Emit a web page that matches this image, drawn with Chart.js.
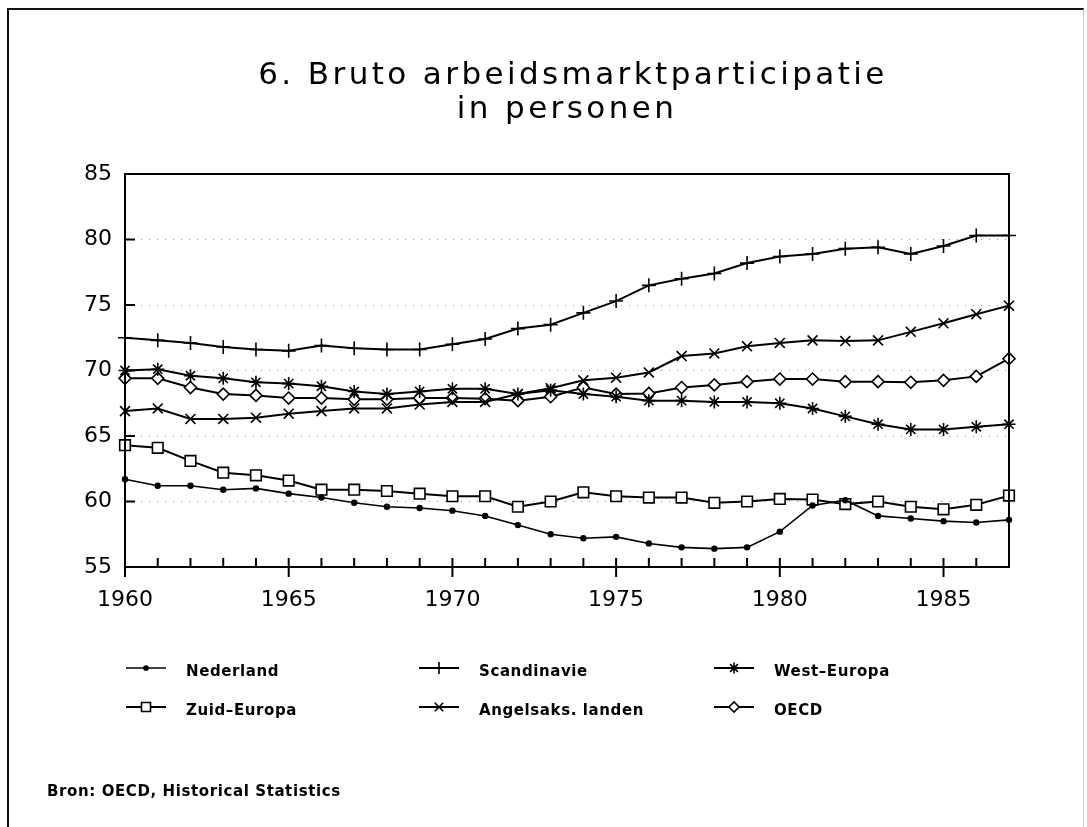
<!DOCTYPE html>
<html>
<head>
<meta charset="utf-8">
<title>Bruto arbeidsmarktparticipatie</title>
<script src="https://cdn.jsdelivr.net/npm/chart.js@4.4.1/dist/chart.umd.min.js"></script>
<style>
  body { margin: 0; background: #fff; }
  #wrap { position: relative; width: 1087px; height: 827px; overflow: hidden; }
  #box { position: absolute; left: 0; top: 0; width: 1087px; height: 827px; }
  #frame { position: absolute; left: 7px; top: 8px; width: 1074px; height: 840px;
           border-left: 2px solid #111; border-top: 2px solid #111; border-right: 1px solid #ccc;
           pointer-events: none; }
</style>
</head>
<body>
<div id="wrap">
  <div id="box"><canvas id="participatieChart"></canvas></div>
  <div id="frame"></div>
</div>
<script>

// years on the x axis, only every 5th gets a label
const years = ['1960','1961','1962','1963','1964','1965','1966','1967','1968','1969',
               '1970','1971','1972','1973','1974','1975','1976','1977','1978','1979',
               '1980','1981','1982','1983','1984','1985','1986','1987'];
const yearLabels = ['1960','1965','1970','1975','1980','1985'];
const yTicks = [55, 60, 65, 70, 75, 80, 85];

const titleLines = ['6. Bruto arbeidsmarktparticipatie', 'in personen'];
const sourceText = 'Bron: OECD, Historical Statistics';

// participatie in %
const nederland   = [61.7, 61.2, 61.2, 60.9, 61.0, 60.6, 60.3, 59.9, 59.6, 59.5,
                     59.3, 58.9, 58.2, 57.5, 57.2, 57.3, 56.8, 56.5, 56.4, 56.5,
                     57.7, 59.7, 60.1, 58.9, 58.7, 58.5, 58.4, 58.6];
const scandinavie = [72.5, 72.3, 72.1, 71.8, 71.6, 71.5, 71.9, 71.7, 71.6, 71.6,
                     72.0, 72.4, 73.2, 73.5, 74.4, 75.3, 76.5, 77.0, 77.4, 78.2,
                     78.7, 78.9, 79.3, 79.4, 78.9, 79.5, 80.3, 80.3];
const westEuropa  = [70.0, 70.1, 69.6, 69.4, 69.1, 69.0, 68.8, 68.4, 68.2, 68.4,
                     68.6, 68.6, 68.2, 68.5, 68.2, 68.0, 67.7, 67.7, 67.6, 67.6,
                     67.5, 67.1, 66.5, 65.9, 65.5, 65.5, 65.7, 65.9];
const zuidEuropa  = [64.3, 64.1, 63.1, 62.2, 62.0, 61.6, 60.9, 60.9, 60.8, 60.6,
                     60.4, 60.4, 59.6, 60.0, 60.7, 60.4, 60.3, 60.3, 59.9, 60.0,
                     60.2, 60.15, 59.8, 60.0, 59.6, 59.4, 59.75, 60.45];
const angelsaks   = [66.9, 67.1, 66.3, 66.3, 66.4, 66.7, 66.9, 67.1, 67.1, 67.4,
                     67.6, 67.6, 68.2, 68.65, 69.25, 69.45, 69.85, 71.1, 71.3, 71.85,
                     72.1, 72.3, 72.25, 72.3, 72.95, 73.6, 74.3, 74.95];
const oecd        = [69.4, 69.4, 68.7, 68.2, 68.1, 67.9, 67.9, 67.8, 67.8, 67.9,
                     67.9, 67.85, 67.7, 68.0, 68.7, 68.2, 68.25, 68.7, 68.9, 69.15,
                     69.35, 69.35, 69.15, 69.15, 69.1, 69.25, 69.55, 70.9];

const FONT = "'DejaVu Sans', 'Liberation Sans', sans-serif";

//dataset template
function lineSet(label, data, pointStyle, radius, fill, width) {
    return {
        label: label,
        data: data,
        borderColor: '#000',
        borderWidth: width || 2,
        pointStyle: pointStyle,
        pointRadius: radius,
        pointHoverRadius: radius,
        pointBorderColor: '#000',
        pointBackgroundColor: fill,
        pointBorderWidth: 1.6,
        tension: 0,
        clip: false
    };
}

const datasets = [
    lineSet('Nederland', nederland, 'circle', 2.4, '#000', 1.6),
    lineSet('Scandinavie', scandinavie, 'cross', 7, '#000'),
    lineSet('West\u2013Europa', westEuropa, 'star', 6.5, '#000'),
    lineSet('Zuid\u2013Europa', zuidEuropa, 'rect', 7.5, '#fff'),
    lineSet('Angelsaks. landen', angelsaks, 'crossRot', 7, '#000'),
    lineSet('OECD', oecd, 'rectRot', 6, '#fff')
];

// title, frame, inner ticks, legend and source text
const decorations = {
    id: 'decorations',
    afterDraw(chart) {
        const ctx = chart.ctx;
        const area = chart.chartArea;
        const xs = chart.scales.x, ys = chart.scales.y;
        ctx.save();
        ctx.fillStyle = '#000';
        ctx.strokeStyle = '#000';

        // title
        ctx.font = '31px ' + FONT;
        ctx.textAlign = 'center';
        ctx.textBaseline = 'alphabetic';
        ctx.letterSpacing = '3.4px';
        const cx = (area.left + area.right) / 2;
        ctx.fillText(titleLines[0], cx + 6, 84);
        ctx.fillText(titleLines[1], cx, 118);
        ctx.letterSpacing = '0px';

        // plot frame
        ctx.lineWidth = 2;
        ctx.strokeRect(area.left, area.top, area.right - area.left, area.bottom - area.top);

        // tick marks pointing inwards
        ctx.beginPath();
        years.forEach((yr, i) => {
            const px = xs.getPixelForValue(i);
            const major = yearLabels.includes(yr);
            ctx.moveTo(px, area.bottom - 9);
            ctx.lineTo(px, area.bottom + (major ? 10 : 0));
        });
        yTicks.slice(1, -1).forEach(v => {
            const py = ys.getPixelForValue(v);
            ctx.moveTo(area.left, py);
            ctx.lineTo(area.left + 10, py);
        });
        ctx.stroke();

        // legend, 3 columns x 2 rows
        const colX = [126, 419, 714];
        const rowY = [668, 707];
        ctx.font = 'bold 15px ' + FONT;
        ctx.textAlign = 'left';
        ctx.textBaseline = 'middle';
        ctx.letterSpacing = '0.6px';
        chart.data.datasets.forEach((ds, i) => {
            const x0 = colX[i % 3];
            const y0 = rowY[Math.floor(i / 3)];
            ctx.lineWidth = ds.borderWidth;
            ctx.beginPath();
            ctx.moveTo(x0, y0);
            ctx.lineTo(x0 + 40, y0);
            ctx.stroke();
            ctx.fillStyle = ds.pointBackgroundColor;
            ctx.lineWidth = ds.pointBorderWidth;
            Chart.helpers.drawPoint(ctx, {
                pointStyle: ds.pointStyle,
                radius: ds.pointRadius * 0.85,
                rotation: 0,
                borderWidth: ds.pointBorderWidth
            }, x0 + 20, y0);
            ctx.fillStyle = '#000';
            ctx.fillText(ds.label, x0 + 60, y0 + 4);
        });

        // source
        ctx.fillText(sourceText, 47, 792);
        ctx.restore();
    }
};

const config = {
    type: 'line',
    data: {
        labels: years,
        datasets: datasets
    },
    options: {
        responsive: true,
        maintainAspectRatio: false,
        animation: false,
        events: [],
        layout: {
            padding: { top: 174, right: 78, left: 0, bottom: 0 }
        },
        plugins: {
            legend: { display: false },
            title: { display: false },
            tooltip: { enabled: false }
        },
        scales: {
            x: {
                type: 'category',
                offset: false,
                grid: { display: false },
                border: { display: false },
                ticks: {
                    autoSkip: false,
                    maxRotation: 0,
                    padding: 12,
                    color: '#000',
                    font: { family: FONT, size: 22 },
                    callback: function (val, i) {
                        return yearLabels.includes(years[i]) ? years[i] : '';
                    }
                },
                afterFit: function (scale) { scale.height = 260; }
            },
            y: {
                min: 55,
                max: 85,
                afterBuildTicks: function (scale) {
                    scale.ticks = yTicks.map(v => ({ value: v }));
                },
                grid: {
                    drawTicks: false,
                    lineWidth: 1,
                    color: function (c) {
                        const v = c.tick && c.tick.value;
                        return (v === 55 || v === 85) ? 'rgba(0,0,0,0)' : '#8a8a8a';
                    }
                },
                border: { display: false, dash: [1, 7] },
                ticks: {
                    padding: 13,
                    color: '#000',
                    font: { family: FONT, size: 22 }
                },
                afterFit: function (scale) { scale.width = 125; }
            }
        }
    },
    plugins: [decorations]
};

const participatieChart = new Chart(document.getElementById('participatieChart'), config);
</script>
</body>
</html>
